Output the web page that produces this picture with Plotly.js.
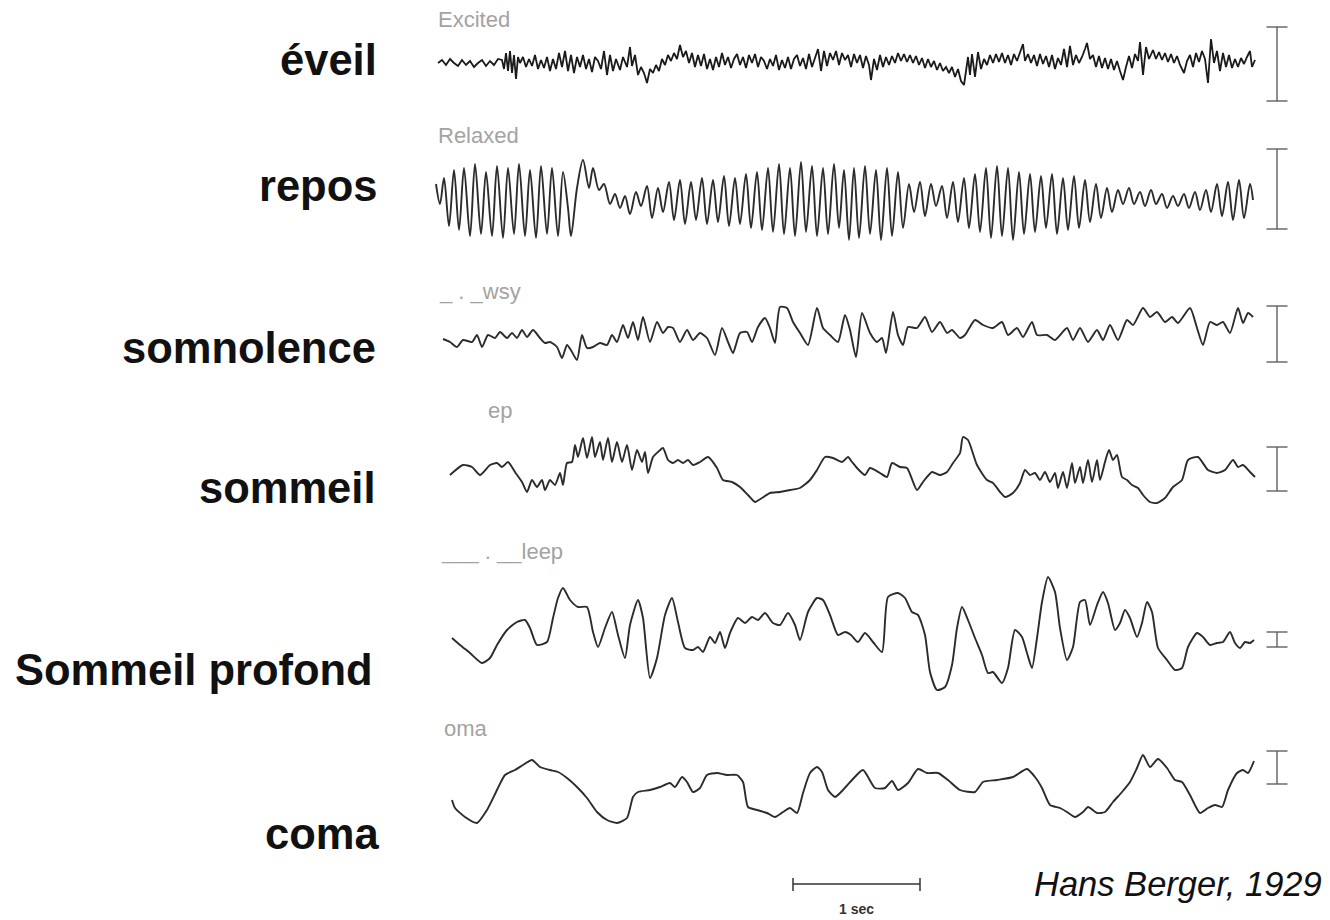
<!DOCTYPE html>
<html><head><meta charset="utf-8">
<script src="https://cdn.plot.ly/plotly-3.0.1.min.js"></script>
<style>html,body{margin:0;padding:0;background:#fff}#chart{width:1330px;height:920px}</style>
</head><body><div id="chart"></div>
<script>
// ---- DATA (time in samples, 127 samples = 1 s; amplitude in display units, up = positive) ----
const states = ["éveil", "repos", "somnolence", "sommeil", "Sommeil profond", "coma"];
const recordLabels = ["Excited", "Relaxed", "_ . _wsy", "ep", "___ . __leep", "oma"];

const eveilT = [-2,2,6,10,14,18,22,26,30,34,38,42,46,50,54,58,62,64,66,68,70,72,74,76,78,80,83,86,89,92,95,98,101,104,107,110,113,116,119,122,125,128,131,134,137,140,143,146,149,152,155,158,161,164,167,170,173,176,180,183,187,190,192,195,198,201,204,207,210,213,216,219,222,225,228,231,234,237,240,243,246,249,252,255,258,261,264,267,270,273,276,279,282,285,288,291,294,297,300,303,306,309,312,315,318,321,324,327,330,333,336,339,342,345,348,351,354,357,360,363,366,369,372,375,378,381,384,387,390,393,396,399,402,405,408,411,414,417,420,423,426,429,431,434,437,440,443,446,449,452,455,458,461,464,467,470,473,476,479,482,485,488,491,494,497,500,503,506,509,512,515,518,521,524,526,528,530,532,535,538,541,544,547,550,553,556,559,562,565,568,571,574,577,580,583,585,588,591,594,597,600,603,606,609,612,615,618,621,624,627,630,633,636,639,642,645,647,650,653,656,659,662,665,668,671,674,677,680,683,686,689,692,695,698,700,703,706,709,713,716,719,722,725,728,731,734,737,740,744,747,750,753,756,759,762,765,768,771,774,777,780,783,786,789,792,795,798,801,804,807,810,812,815];
const eveilV = [0,3,-2,4,0,-3,3,-2,2,-4,0,3,-3,2,-2,4,
  3,-6,10,-8,12,-10,8,-16,6,
  0,6,-4,4,-3,8,-6,3,-5,6,-8,
  4,-6,10,-4,12,-8,8,-10,
  6,-4,8,-6,4,-9,6,2,-6,
  12,-12,8,-8,
  4,-7,6,-4,16,
  -3,8,-12,-4,-10,-20,-6,
  -10,-2,-8,4,-2,8,2,10,4,18,6,
  12,0,10,-4,8,-3,9,-6,4,-7,6,-4,10,-2,6,
  -5,4,9,-2,6,-5,8,0,9,-4,6,2,-6,4,-3,8,-7,3,-5,6,-6,4,
  8,-3,5,-6,9,-4,6,14,-8,12,-3,10,3,12,-2,10,3,8,-4,9,0,
  8,-5,7,-2,-17,4,
  -7,8,-4,6,-2,7,0,
  10,2,9,1,8,0,7,
  -2,5,-5,4,-4,2,-7,0,-8,-4,
  -10,-4,-14,-6,-18,-22,-8,
  6,-12,9,-14,11,-6,4,-2,
  8,0,9,1,10,0,8,-2,9,2,10,19,
  2,9,0,8,-3,9,-1,7,-4,8,-6,5,-2,
  14,-4,17,-2,
  8,0,6,14,20,4,
  8,-4,7,-5,5,-6,4,-7,2,
  -8,-17,
  -4,7,-5,9,2,
  21,-12,16,4,
  13,4,11,3,10,1,9,0,7,-2,
  -10,2,
  8,-4,10,1,12,4,
  -20,24,0,
  12,-8,10,-4,8,
  -5,4,-4,5,-1,6,12,-4,3];

const reposT = [-4,0,4,9,14,19,24,30,35,41,46,52,57,63,68,74,79,85,90,96,101,107,112,118,123,128,131,137,143,149,153,159,164,170,175,180,185,190,196,201,207,212,218,223,229,234,240,245,251,256,262,267,273,278,284,289,295,300,306,311,317,322,328,333,339,344,350,355,361,366,372,377,383,388,394,399,404,409,414,419,425,430,436,441,447,452,458,463,469,474,480,485,491,496,502,507,513,518,524,529,535,540,546,551,557,562,568,573,579,584,590,595,601,606,612,617,623,628,634,639,645,650,656,661,667,672,678,683,689,694,700,705,711,716,722,727,733,738,744,749,755,760,766,771,777,782,788,793,799,804,810,813];
const reposV = [14,-6,20,-28,28,-32,30,-38,34,-36,26,-38,32,-40,30,-36,34,-38,28,-40,32,-36,30,-38,26,-10,-38,10,38,10,30,8,14,-6,4,-10,2,-16,6,-8,12,-20,10,-14,16,-22,18,-26,16,-22,20,-26,18,-24,22,-28,20,-26,24,-30,26,-32,30,-34,34,-36,30,-38,36,-34,32,-38,30,-36,34,-30,28,-42,30,-40,32,-36,28,-42,30,-38,26,-30,14,-14,16,-18,14,-8,12,-20,16,-24,20,-30,24,-34,30,-40,32,-38,30,-42,26,-36,24,-34,22,-30,24,-36,20,-32,22,-30,18,-24,14,-20,10,-14,8,-6,10,-6,6,-8,8,-6,4,-10,2,-8,4,-10,6,-12,8,-14,14,-18,16,-22,18,-20,14,-2];

const somnoT = [3,10,17,23,32,37,42,48,55,60,67,72,77,82,87,93,100,105,110,117,122,127,132,137,142,147,153,160,167,172,177,183,188,193,198,203,210,217,223,228,233,240,247,253,260,267,275,282,288,293,300,307,312,318,325,330,335,340,347,353,360,368,377,383,390,398,405,410,416,422,430,437,442,446,453,458,463,468,477,485,492,500,507,512,520,525,535,543,553,562,568,577,583,592,597,607,615,627,633,640,648,657,663,670,678,687,693,703,710,717,725,732,738,750,757,763,770,777,783,790,798,803,808,813];
const somnoV = [-6,-9,-14,-7,-9,-2,-14,-2,-5,1,-5,0,-5,3,-4,3,-5,-10,-9,-14,-25,-12,-19,-27,-2,-15,-14,-10,-12,-2,-9,8,-5,11,-7,16,-9,11,0,6,5,-9,3,-7,0,-5,-22,5,-9,-20,0,1,-9,6,15,5,-10,26,25,11,0,-12,25,5,-2,-9,18,3,-24,20,0,-9,-5,-20,21,-2,-12,6,5,16,1,11,0,3,-5,-2,13,8,5,11,-2,5,-4,11,-2,-2,-7,5,-7,5,-9,3,-7,8,-7,13,8,25,16,21,11,16,10,25,5,-12,11,8,11,0,25,10,20,16];

const sommeilT = [10,23,32,40,50,57,62,68,75,82,87,92,97,102,105,110,115,120,123,127,132,135,138,143,147,152,155,160,163,168,172,177,182,187,192,197,202,205,208,213,218,223,228,233,238,243,248,253,260,268,277,283,292,300,308,315,322,330,340,350,360,370,377,385,393,402,408,412,417,425,430,440,447,452,460,467,477,483,492,500,507,513,520,523,528,537,547,553,560,565,573,580,585,590,595,600,605,610,615,618,623,627,632,635,640,643,648,652,657,660,665,669,673,677,682,687,692,698,703,710,717,725,733,742,748,758,768,777,785,793,798,803,810,815];
const sommeilV = [-7,3,1,-7,3,5,1,6,-4,-14,-24,-12,-19,-12,-22,-12,-17,-5,-17,5,6,23,11,30,10,31,11,26,8,30,6,26,6,23,-2,18,6,16,-5,11,16,20,8,5,8,5,8,3,6,11,0,-12,-14,-19,-27,-34,-30,-25,-24,-22,-20,-12,-2,11,10,6,11,6,0,-7,0,-5,-9,5,1,0,-22,-14,-4,-7,-4,5,15,31,28,3,-12,-15,-24,-29,-25,-15,-2,-7,-5,-12,-4,-14,-5,-20,-4,-20,5,-15,1,-15,8,-14,8,-12,6,18,8,13,-9,-12,-17,-20,-27,-34,-35,-30,-19,-12,8,11,-2,-5,-2,8,1,3,-4,-9];

const profondT = [12,20,30,42,50,57,67,77,85,90,97,107,113,118,123,130,138,147,153,158,165,172,178,185,190,198,203,210,217,225,232,238,245,253,258,263,270,275,280,285,290,298,305,312,318,325,333,340,348,355,360,368,377,383,390,398,405,411,418,425,433,442,448,458,465,472,478,485,490,497,505,512,517,522,528,535,542,548,553,562,568,575,582,587,592,597,602,608,615,620,627,633,640,645,650,657,663,668,675,680,685,690,697,702,707,712,718,727,735,742,748,757,763,770,777,783,790,795,800,805,810,814];
const profondV = [-8,-15,-23,-33,-28,-15,0,8,10,2,-15,-12,12,32,42,30,23,23,-2,-17,2,18,-5,-28,5,30,12,-48,-28,15,32,8,-18,-20,-17,-22,-7,-13,-2,-18,-3,12,7,13,10,17,7,5,17,5,-10,18,32,30,15,-5,-2,-5,-12,-3,-12,-22,33,37,32,18,15,-5,-42,-60,-57,-35,2,23,10,-8,-25,-43,-42,-53,-38,0,-7,-23,-38,-8,28,53,38,2,-30,-17,28,30,5,25,38,27,0,7,20,12,-7,7,28,18,-18,-30,-40,-38,-17,-3,-7,-15,-13,-12,-2,-13,-18,-12,-13,-10];

const comaT = [12,15,25,37,47,57,65,75,83,92,100,110,118,127,137,147,157,167,177,187,193,198,210,220,230,235,242,247,253,260,267,277,287,297,303,308,317,327,335,343,350,357,363,370,377,382,388,395,403,412,423,435,445,452,458,468,478,487,498,508,520,535,543,557,573,587,595,602,610,620,627,635,643,648,657,665,673,682,690,697,703,710,718,727,735,742,750,760,768,775,782,788,797,803,808,814];
const comaV = [-10,-18,-27,-33,-20,0,15,20,25,30,23,20,18,12,3,-8,-22,-30,-33,-28,-7,-2,0,3,7,3,13,8,-2,2,15,17,15,15,8,-17,-20,-23,-27,-22,-18,-23,-3,17,23,18,0,-7,0,10,20,2,2,9,0,7,21,17,17,10,0,-2,8,10,13,21,13,2,-15,-18,-22,-27,-22,-17,-23,-22,-12,-2,8,22,35,23,31,22,10,8,-5,-23,-18,-15,-17,0,17,20,17,29];

// calibration bars (display units, per record)
const calTop    = [36, 49, 27, 21, -2, 39];
const calBottom = [-38, -31, -29, -23, -17, 6];
const SEC = 127;               // samples in one second
const sourceText = "Hans Berger, 1929";
const scaleText = "1 sec";

// ---- LAYOUT / DRAWING ----
const W = 1330, H = 920;
const T = [eveilT, reposT, somnoT, sommeilT, profondT, comaT];
const V = [eveilV, reposV, somnoV, sommeilV, profondV, comaV];
const baseline = [63, 198, 333, 468, 630, 790];      // pixel row of each record's zero
const labelRight = [379, 379, 378, 378, 375, 381];
const labelY = [60, 186, 348, 488, 670, 834];
const recLabelY = [20, 135, 291, 411, 551, 728];
const recLabelX = [436, 436, 437, 486, 439, 442];
const CAL_X = 837;
const X0 = 440;   // pixel column of sample 0

const traces = [];
const layout = {
  width: W, height: H, margin: {l:0, r:0, t:0, b:0},
  paper_bgcolor: '#fff', plot_bgcolor: '#fff', showlegend: false,
  xaxis: {range: [-X0, W - X0], visible: false, fixedrange: true},
  annotations: [], shapes: []
};
const px2paper = (py) => 1 - py / H;

for (let i = 0; i < 6; i++) {
  const ax = i === 0 ? 'y' : 'y' + (i + 1);
  const key = i === 0 ? 'yaxis' : 'yaxis' + (i + 1);
  layout[key] = {range: [baseline[i] - H, baseline[i]], visible: false, fixedrange: true};
  if (i > 0) layout[key].overlaying = 'y';
  traces.push({
    type: 'scatter', mode: 'lines', x: T[i], y: V[i], xaxis: 'x', yaxis: ax,
    line: {color: i === 0 ? '#1a1a1a' : '#2b2b2b', width: i === 0 ? 1.8 : 1.9,
           shape: i === 0 ? 'linear' : 'spline', smoothing: i === 1 ? 0.9 : 0.6},
    hoverinfo: 'skip'
  });
  traces.push({
    type: 'scatter', mode: 'lines+markers', x: [CAL_X, CAL_X], y: [calBottom[i], calTop[i]],
    xaxis: 'x', yaxis: ax,
    line: {color: '#555', width: 1.3},
    marker: {symbol: 'line-ew', size: 15, color: '#555', line: {color: '#555', width: 1.3}},
    hoverinfo: 'skip'
  });
  layout.annotations.push({
    xref: 'paper', yref: 'paper', x: labelRight[i] / W, y: px2paper(labelY[i]),
    xanchor: 'right', yanchor: 'middle', showarrow: false,
    text: '<b>' + states[i] + '</b>',
    font: {family: 'Liberation Sans, Arial, sans-serif', size: 43.5, color: '#111'}
  });
  layout.annotations.push({
    xref: 'paper', yref: 'paper', x: recLabelX[i] / W, y: px2paper(recLabelY[i]),
    xanchor: 'left', yanchor: 'middle', showarrow: false,
    text: recordLabels[i],
    font: {family: 'Liberation Sans, Arial, sans-serif', size: 22, color: '#a3a3a3'}
  });
}

// 1-second scale bar
const sbY = px2paper(884), sbT0 = 353, sbT1 = sbT0 + SEC;
layout.shapes.push({type:'line', xref:'x', yref:'paper', x0: sbT0, x1: sbT1, y0: sbY, y1: sbY, line:{color:'#333', width:1.5}});
layout.shapes.push({type:'line', xref:'x', yref:'paper', x0: sbT0, x1: sbT0, y0: px2paper(878), y1: px2paper(891), line:{color:'#333', width:1.5}});
layout.shapes.push({type:'line', xref:'x', yref:'paper', x0: sbT1, x1: sbT1, y0: px2paper(878), y1: px2paper(891), line:{color:'#333', width:1.5}});
layout.annotations.push({xref:'x', yref:'paper', x: (sbT0 + sbT1) / 2, y: px2paper(909), xanchor:'center', yanchor:'middle', showarrow:false,
  text: '<b>' + scaleText + '</b>', font:{family:'Liberation Sans, Arial, sans-serif', size:14, color:'#333'}});
layout.annotations.push({xref:'paper', yref:'paper', x: 1324 / W, y: px2paper(884), xanchor:'right', yanchor:'middle', showarrow:false,
  text: '<i>' + sourceText + '</i>', font:{family:'Liberation Sans, Arial, sans-serif', size:34.5, color:'#111'}});

Plotly.newPlot('chart', traces, layout, {staticPlot: true, displayModeBar: false});
</script></body></html>
